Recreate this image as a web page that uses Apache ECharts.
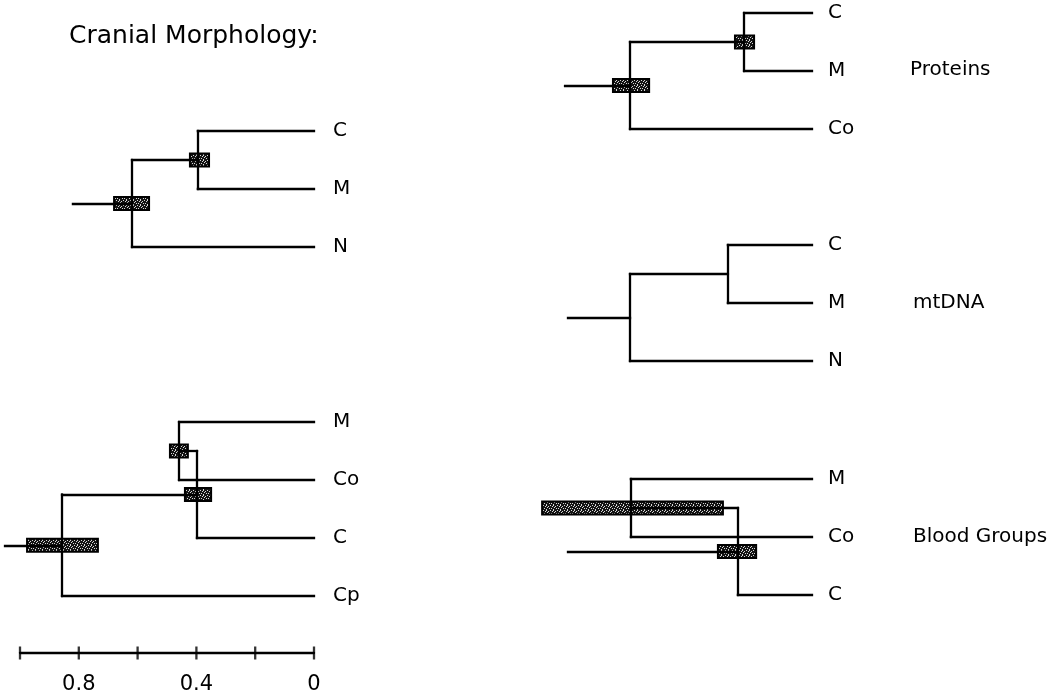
<!DOCTYPE html>
<html>
<head>
<meta charset="utf-8">
<script src="https://cdn.jsdelivr.net/npm/echarts@6/dist/echarts.min.js"></script>
<style>
html,body{margin:0;padding:0;background:#fff;}
#chart{width:1063px;height:695px;}
</style>
</head>
<body>
<div id="chart"></div>
<script>
// ---------- DATA (distance units; 0 = tips) ----------
// Cranial morphology, 3 taxa
const cranial3Leaves = ["C", "M", "N"];
const cranial3Nodes = [["C", "M"], ["n0", "N"]];
const cranial3Depths = [0.395, 0.619];
const cranial3Boxes = [[0.422, 0.357], [0.680, 0.561]];
const cranial3Stem = 0.82;

// Cranial morphology, 4 taxa
const cranial4Leaves = ["M", "Co", "C", "Cp"];
const cranial4Nodes = [["M", "Co"], ["n0", "C"], ["n1", "Cp"]];
const cranial4Depths = [0.459, 0.398, 0.857];
const cranial4Boxes = [[0.490, 0.429], [0.439, 0.350], [0.976, 0.735]];
const cranial4Stem = 1.051;

// Proteins
const proteinLeaves = ["C", "M", "Co"];
const proteinNodes = [["C", "M"], ["n0", "Co"]];
const proteinDepths = [0.231, 0.619];
const proteinBoxes = [[0.262, 0.197], [0.677, 0.554]];
const proteinStem = 0.84;

// mtDNA
const mtdnaLeaves = ["C", "M", "N"];
const mtdnaNodes = [["C", "M"], ["n0", "N"]];
const mtdnaDepths = [0.286, 0.619];
const mtdnaBoxes = [null, null];
const mtdnaStem = 0.83;

// Blood groups
const bloodLeaves = ["M", "Co", "C"];
const bloodNodes = [["M", "Co"], ["n0", "C"]];
const bloodDepths = [0.616, 0.252];
const bloodBoxes = [[0.918, 0.303], [0.320, 0.190]];
const bloodStem = 0.83;

// Scale bar
const scaleTicks = [0, 0.2, 0.4, 0.6, 0.8, 1.0];
const scaleLabels = ["0.8", "0.4", "0"];

// Panel titles
const mainTitle = "Cranial Morphology:";
const panelNames = ["Proteins", "mtDNA", "Blood Groups"];

// ---------- LAYOUT ----------
const PX = 294;          // pixels per distance unit
const XMAX = 1.06;
const GAP = 58;          // pixels between leaves
const FONT = "DejaVu Sans";
const INK = "#000";

const trees = [
  {leaves: cranial3Leaves, nodes: cranial3Nodes, depths: cranial3Depths, boxes: cranial3Boxes, stem: cranial3Stem, right: 314, top: 131, margin: 19},
  {leaves: cranial4Leaves, nodes: cranial4Nodes, depths: cranial4Depths, boxes: cranial4Boxes, stem: cranial4Stem, right: 314, top: 422, margin: 19},
  {leaves: proteinLeaves, nodes: proteinNodes, depths: proteinDepths, boxes: proteinBoxes, stem: proteinStem, right: 812, top: 13, margin: 16},
  {leaves: mtdnaLeaves, nodes: mtdnaNodes, depths: mtdnaDepths, boxes: mtdnaBoxes, stem: mtdnaStem, right: 812, top: 245, margin: 16},
  {leaves: bloodLeaves, nodes: bloodNodes, depths: bloodDepths, boxes: bloodBoxes, stem: bloodStem, right: 812, top: 479, margin: 16}
];

// stipple pattern for the boxes
function makePattern() {
  const c = document.createElement('canvas');
  c.width = 7; c.height = 5;
  const g = c.getContext('2d');
  g.fillStyle = '#141414';
  g.fillRect(0, 0, 7, 5);
  g.fillStyle = '#d8d8d8';
  const dots = [[0,0],[4,0],[2,1],[6,1],[1,2],[5,3],[3,3],[0,4]];
  dots.forEach(p => g.fillRect(p[0], p[1], 1, 1));
  return {image: c, repeat: 'repeat'};
}
const pattern = makePattern();

function buildTree(t) {
  const y = {}, d = {};
  t.leaves.forEach((l, i) => { y[l] = i; d[l] = 0; });
  const segs = [], boxes = [];
  t.nodes.forEach((kids, k) => {
    const id = 'n' + k;
    y[id] = (y[kids[0]] + y[kids[1]]) / 2;
    d[id] = t.depths[k];
    segs.push({coords: [[d[id], y[kids[0]]], [d[id], y[kids[1]]]]});
    kids.forEach(c => segs.push({coords: [[d[id], y[c]], [d[c], y[c]]]}));
    if (t.boxes[k]) boxes.push([t.boxes[k][0], t.boxes[k][1], y[id]]);
  });
  const root = 'n' + (t.nodes.length - 1);
  segs.push({coords: [[t.stem, y[root]], [d[root], y[root]]]});
  return {segs, boxes};
}

const grids = [], xAxes = [], yAxes = [], series = [];
trees.forEach((t, i) => {
  const b = buildTree(t);
  grids.push({left: t.right - XMAX * PX, width: XMAX * PX, top: t.top, height: (t.leaves.length - 1) * GAP});
  xAxes.push({gridIndex: i, type: 'value', min: 0, max: XMAX, inverse: true, show: false});
  yAxes.push({
    gridIndex: i, type: 'value', min: 0, max: t.leaves.length - 1, interval: 1, inverse: true, position: 'right',
    axisLine: {show: false}, axisTick: {show: false}, splitLine: {show: false},
    axisLabel: {margin: t.margin, color: INK, fontFamily: FONT, fontSize: 20, align: 'left',
      formatter: v => t.leaves[Math.round(v)] || ''}
  });
  series.push({
    type: 'custom', xAxisIndex: i, yAxisIndex: i, z: 2, clip: false, silent: true,
    data: b.boxes,
    renderItem: function (params, api) {
      const p1 = api.coord([api.value(0), api.value(2)]);
      const p2 = api.coord([api.value(1), api.value(2)]);
      const h = 13;
      return {type: 'rect', shape: {x: Math.min(p1[0], p2[0]), y: p1[1] - h / 2, width: Math.abs(p2[0] - p1[0]), height: h},
        style: {fill: pattern, stroke: '#000', lineWidth: 2}};
    }
  });
  series.push({
    type: 'lines', coordinateSystem: 'cartesian2d', xAxisIndex: i, yAxisIndex: i, z: 3, silent: true, clip: false,
    lineStyle: {color: INK, width: 2.3, opacity: 1, cap: 'square'},
    data: b.segs
  });
});

// scale bar
const si = trees.length;
grids.push({left: 314 - PX, width: PX, top: 652, height: 1});
xAxes.push({gridIndex: si, type: 'value', min: 0, max: 1, interval: 0.2, inverse: true, position: 'bottom',
  axisLine: {show: true, lineStyle: {color: INK, width: 2.3}}, axisTick: {show: false}, splitLine: {show: false},
  axisLabel: {margin: 21, color: INK, fontFamily: FONT, fontSize: 21,
    formatter: v => { const s = String(+(+v).toFixed(1)); return scaleLabels.indexOf(s) >= 0 ? s : ''; }}
});
yAxes.push({gridIndex: si, type: 'value', min: 0, max: 1, show: false});
series.push({type: 'scatter', xAxisIndex: si, yAxisIndex: si, clip: false, silent: true,
  symbol: 'rect', symbolSize: [2.3, 13], itemStyle: {color: INK},
  data: scaleTicks.map(v => [v, 0])});

const texts = [
  {t: mainTitle, x: 69, y: 36, size: 25},
  {t: panelNames[0], x: 910, y: 70, size: 20},
  {t: panelNames[1], x: 913, y: 303, size: 20},
  {t: panelNames[2], x: 913, y: 537, size: 20}
];

const chart = echarts.init(document.getElementById('chart'), null, {renderer: 'canvas'});
chart.setOption({
  backgroundColor: '#fff',
  animation: false,
  grid: grids, xAxis: xAxes, yAxis: yAxes, series: series,
  graphic: texts.map(o => ({type: 'text', x: o.x, y: o.y,
    style: {text: o.t, fill: INK, font: o.size + 'px "' + FONT + '"', align: 'left', verticalAlign: 'middle'}}))
});
</script>
</body>
</html>
